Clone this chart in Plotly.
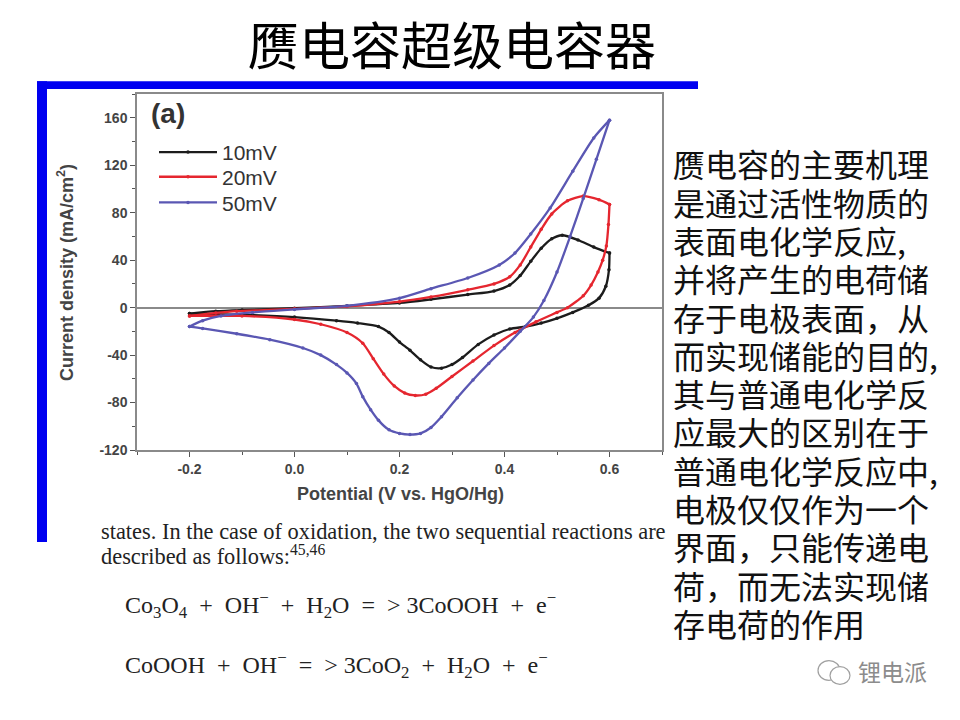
import plotly.graph_objects as go

# CV curves: potential (V vs. HgO/Hg) -> current density (mA/cm2)
# forward scan -0.2 -> 0.6 V, reverse scan 0.6 -> -0.2 V
scan_names = ["10mV", "20mV", "50mV"]
scan_colors = ["#1c1c1c", "#e5262f", "#5a57b3"]

v_10_fwd = [-0.2, -0.15, -0.1, 0.0, 0.1, 0.2, 0.26, 0.33, 0.38, 0.41, 0.43, 0.45, 0.47, 0.49, 0.51, 0.54, 0.57, 0.60]
j_10_fwd = [-5, -3, -2, -0.5, 1.5, 4, 7, 11, 14, 19, 27, 39, 50, 58, 61, 57, 51, 46]
v_10_rev = [0.60, 0.599, 0.593, 0.58, 0.56, 0.53, 0.50, 0.47, 0.44, 0.41, 0.38, 0.35, 0.32, 0.30, 0.28,
            0.26, 0.24, 0.22, 0.20, 0.18, 0.16, 0.12, 0.08, 0.0, -0.1, -0.2]
j_10_rev = [46, 32, 18, 8, 2, -4, -9, -13, -16, -18, -23, -31, -42, -48, -51,
            -50, -44, -36, -29, -21, -16, -13, -11, -8, -6, -5]

v_20_fwd = [-0.2, -0.15, -0.11, 0.0, 0.1, 0.2, 0.26, 0.33, 0.38, 0.41, 0.43, 0.45, 0.47, 0.49, 0.52, 0.55, 0.58, 0.60]
j_20_fwd = [-7, -4.5, -3, -1, 1, 5, 9, 15, 20, 26, 36, 51, 66, 79, 90, 94, 91, 87]
v_20_rev = [0.60, 0.598, 0.594, 0.587, 0.578, 0.565, 0.55, 0.52, 0.50, 0.46, 0.42, 0.38, 0.34, 0.30, 0.27,
            0.25, 0.23, 0.21, 0.19, 0.17, 0.15, 0.13, 0.10, 0.05, 0.0, -0.1, -0.2]
j_20_rev = [87, 70, 52, 40, 30, 19, 10, 0, -4, -12, -21, -32, -45, -58, -68,
            -73, -74, -72, -66, -56, -43, -30, -21, -14, -10, -7, -7]

v_50_fwd = [-0.2, -0.175, -0.14, -0.08, 0.0, 0.1, 0.2, 0.26, 0.33, 0.39, 0.42, 0.45, 0.487, 0.53, 0.57, 0.60]
j_50_fwd = [-16, -11, -7, -4, -1.5, 1.5, 8, 16, 25, 36, 46, 62, 84, 115, 143, 158]
v_50_rev = [0.60, 0.575, 0.55, 0.525, 0.50, 0.475, 0.455, 0.43, 0.40, 0.37, 0.34, 0.31, 0.28, 0.26, 0.24,
            0.22, 0.20, 0.18, 0.16, 0.145, 0.13, 0.118, 0.10, 0.08, 0.05, 0.016, -0.047, -0.11, -0.175, -0.2]
j_50_rev = [158, 125, 92, 60, 30, 6, -8, -20, -34, -47, -61, -76, -92, -101, -106,
            -107, -106, -103, -95, -86, -75, -64, -55, -48, -40, -34, -27, -22, -17.5, -16]

curves = [
    (v_10_fwd, j_10_fwd, v_10_rev, j_10_rev),
    (v_20_fwd, j_20_fwd, v_20_rev, j_20_rev),
    (v_50_fwd, j_50_fwd, v_50_rev, j_50_rev),
]

x_ticks = [-0.2, 0.0, 0.2, 0.4, 0.6]
x_ticklabels = ["-0.2", "0.0", "0.2", "0.4", "0.6"]
y_ticks = [-120, -80, -40, 0, 40, 80, 120, 160]
y_ticklabels = ["-120", "-80", "-40", "0", "40", "80", "120", "160"]

side_text = [
    "赝电容的主要机理",
    "是通过活性物质的",
    "表面电化学反应,",
    "并将产生的电荷储",
    "存于电极表面，从",
    "而实现储能的目的,",
    "其与普通电化学反",
    "应最大的区别在于",
    "普通电化学反应中,",
    "电极仅仅作为一个",
    "界面，只能传递电",
    "荷，而无法实现储",
    "存电荷的作用",
]

sans = "Arial, Liberation Sans, sans-serif"
serif = "Times New Roman, Liberation Serif, serif"
cjk = "Noto Sans CJK SC, sans-serif"


# page pixels -> paper coords (the page body adds an 8px margin)
def px(x):
    return (x - 8) / 960


def py(y):
    return 1 - (y - 8) / 720


fig = go.Figure()

legend_ids = ["legend", "legend2", "legend3"]
for name, color, lid, (vf, jf, vr, jr) in zip(scan_names, scan_colors, legend_ids, curves):
    fig.add_trace(go.Scatter(x=vf, y=jf, mode="lines+markers", name=name, legendgroup=name, legend=lid,
                             line=dict(color=color, width=2.3, shape="spline", smoothing=0.7),
                             marker=dict(color=color, size=3.5)))
    fig.add_trace(go.Scatter(x=vr, y=jr, mode="lines+markers", name=name, legendgroup=name, legend=lid,
                             showlegend=False,
                             line=dict(color=color, width=2.3, shape="spline", smoothing=0.7),
                             marker=dict(color=color, size=3.5)))

axis_common = dict(showline=True, linecolor="#8a8a8a", linewidth=1.5, mirror=True,
                   showgrid=False, ticks="outside", ticklen=5, tickwidth=1.2, tickcolor="#555",
                   tickfont=dict(family=sans, size=14, color="#444", weight="bold"))

fig.update_xaxes(range=[-0.3, 0.7], tickvals=x_ticks, ticktext=x_ticklabels,
                 minor=dict(ticks="outside", ticklen=3, dtick=0.1, tickcolor="#555"),
                 zeroline=False, domain=[px(137), px(662)], **axis_common)
fig.update_yaxes(range=[-120, 180], tickvals=y_ticks, ticktext=y_ticklabels,
                 minor=dict(ticks="outside", ticklen=3, dtick=20, tickcolor="#555"),
                 zeroline=True, zerolinecolor="#8a8a8a", zerolinewidth=1.5,
                 domain=[py(455), py(95)], **axis_common)

sp = "\u00a0"
g2 = sp * 2
eq1 = (f"Co<sub>3</sub>O<sub>4</sub>{g2}+{g2}OH<sup>\u2212</sup>{g2}+{g2}H<sub>2</sub>O{g2}={g2}"
       f">{sp}3CoOOH{g2}+{g2}e<sup>\u2212</sup>")
eq2 = (f"CoOOH{g2}+{g2}OH<sup>\u2212</sup>{g2}={g2}>{sp}3CoO<sub>2</sub>{g2}+{g2}H<sub>2</sub>O"
       f"{g2}+{g2}e<sup>\u2212</sup>")

annotations = [
    dict(text="赝电容超级电容器", x=px(452), y=py(43), font=dict(family=cjk, size=51, color="#000")),
    dict(text="(a)", x=px(149), y=py(115), xanchor="left",
         font=dict(family=sans, size=28, color="#333", weight="bold")),
    dict(text="Potential (V vs. HgO/Hg)", x=px(400), y=py(499),
         font=dict(family=sans, size=18, color="#444", weight="bold")),
    dict(text="Current density (mA/cm<sup>2</sup>)", x=px(65), y=py(276), textangle=-90,
         font=dict(family=sans, size=18, color="#444", weight="bold")),
    dict(text="states. In the case of oxidation, the two sequential reactions are", x=px(99),
         y=py(537), xanchor="left", font=dict(family=serif, size=22.4, color="#222")),
    dict(text="described as follows:<sup>45,46</sup>", x=px(99), y=py(561), xanchor="left",
         font=dict(family=serif, size=22.4, color="#222")),
    dict(text=eq1, x=px(123), y=py(612), xanchor="left", font=dict(family=serif, size=24, color="#222")),
    dict(text=eq2, x=px(123), y=py(672), xanchor="left", font=dict(family=serif, size=24, color="#222")),
    dict(text="锂电派", x=px(856), y=py(678), xanchor="left",
         font=dict(family=cjk, size=23, color="#8c8c8c")),
]
for i, line in enumerate(side_text):
    annotations.append(dict(text=line, x=px(671), y=py(165 + i * 38.75), xanchor="left",
                            font=dict(family=cjk, size=32, color="#111")))
for a in annotations:
    a.update(xref="paper", yref="paper", showarrow=False)
    a.setdefault("xanchor", "center")
    a.setdefault("yanchor", "middle")

# blue frame around the pasted chart and the wechat logo
shapes = [
    dict(type="rect", x0=px(37), x1=px(698), y0=py(90), y1=py(82),
         fillcolor="#0000f0", line_width=0),
    dict(type="rect", x0=px(37), x1=px(47), y0=py(548), y1=py(82),
         fillcolor="#0000f0", line_width=0),
    dict(type="circle", x0=px(818), x1=px(840), y0=py(688), y1=py(668),
         line=dict(color="#a0a0a0", width=1.2)),
    dict(type="circle", x0=px(830), x1=px(850), y0=py(692), y1=py(674),
         line=dict(color="#a0a0a0", width=1.2), fillcolor="white"),
]
for s in shapes:
    s.update(xref="paper", yref="paper")

legend_style = dict(x=px(154), xanchor="left", yanchor="middle", bgcolor="rgba(0,0,0,0)",
                    font=dict(family=sans, size=21, color="#333"), itemwidth=58)

fig.update_layout(
    width=960, height=720,
    margin=dict(l=0, r=0, t=0, b=0),
    paper_bgcolor="white", plot_bgcolor="white",
    showlegend=True,
    legend=dict(y=py(154), **legend_style),
    legend2=dict(y=py(179), **legend_style),
    legend3=dict(y=py(205), **legend_style),
    annotations=annotations,
    shapes=shapes,
)

fig.write_html("out.html")
